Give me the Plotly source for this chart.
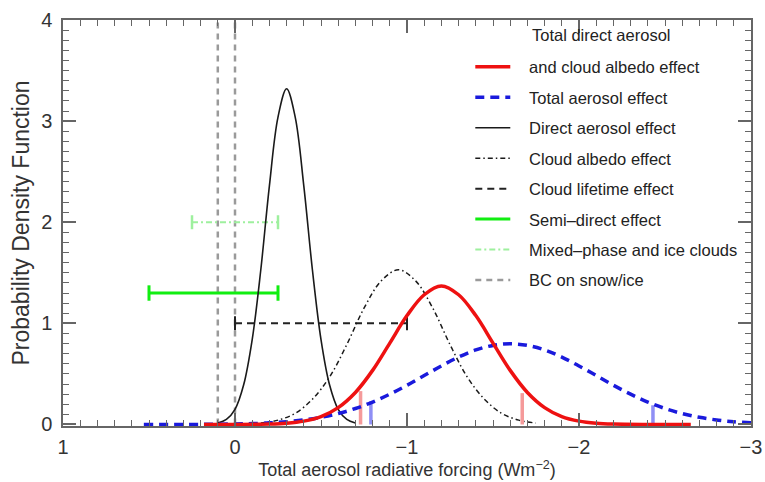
import plotly.graph_objects as go

# ---- data ----
# Direct aerosol effect PDF
direct_x = [0.10, 0.05, 0.00, -0.05, -0.10, -0.15, -0.20, -0.25, -0.30, -0.35, -0.40, -0.45, -0.50, -0.55, -0.60, -0.65, -0.70]
direct_y = [0.014, 0.05, 0.15, 0.39, 0.84, 1.53, 2.36, 3.04, 3.32, 3.04, 2.36, 1.53, 0.84, 0.39, 0.15, 0.05, 0.014]

# Cloud albedo effect PDF
albedo_x = [-0.15, -0.25, -0.35, -0.45, -0.55, -0.65, -0.75, -0.85, -0.95, -1.05, -1.15, -1.25, -1.35, -1.45, -1.55, -1.65, -1.75]
albedo_y = [0.014, 0.043, 0.11, 0.25, 0.47, 0.79, 1.15, 1.42, 1.53, 1.42, 1.15, 0.79, 0.47, 0.25, 0.11, 0.043, 0.014]

# Total direct aerosol and cloud albedo effect PDF
tdca_x = [0.18, 0.0, -0.2, -0.3, -0.4, -0.5, -0.6, -0.7, -0.8, -0.9, -1.0, -1.1, -1.2, -1.3, -1.4, -1.5, -1.6, -1.7, -1.8, -1.9, -2.0, -2.1, -2.2, -2.4, -2.65]
tdca_y = [0.0, 0.0003, 0.004, 0.012, 0.033, 0.078, 0.167, 0.317, 0.535, 0.805, 1.077, 1.283, 1.37, 1.283, 1.077, 0.805, 0.535, 0.317, 0.167, 0.078, 0.033, 0.012, 0.004, 0.0003, 0.0]

# Total aerosol effect PDF
total_x = [0.53, 0.2, 0.0, -0.1, -0.2, -0.3, -0.4, -0.5, -0.6, -0.7, -0.8, -0.9, -1.0, -1.1, -1.2, -1.3, -1.4, -1.5, -1.6, -1.7, -1.8, -1.9, -2.0, -2.1, -2.2, -2.3, -2.4, -2.5, -2.6, -2.7, -2.8, -2.9, -3.0]
total_y = [0.0, 0.0012, 0.005, 0.009, 0.016, 0.027, 0.045, 0.071, 0.108, 0.158, 0.222, 0.300, 0.388, 0.484, 0.579, 0.667, 0.737, 0.782, 0.798, 0.782, 0.737, 0.667, 0.579, 0.484, 0.388, 0.300, 0.222, 0.158, 0.108, 0.071, 0.045, 0.027, 0.016]

# 5-95% markers
tdca_pct_x = [-0.73, -1.67]
tdca_pct_h = [0.33, 0.31]
total_pct_x = [-0.79, -2.43]
total_pct_h = [0.23, 0.19]

# Ranges (x_start, x_end, y level)
lifetime_range = [0.0, -1.0]
lifetime_level = 1.0
semidirect_range = [0.5, -0.25]
semidirect_level = 1.3
mixed_range = [0.25, -0.25]
mixed_level = 2.0
bc_lines = [0.1, 0.0]
bc_top = 4.0

legend_names = ["and cloud albedo effect", "Total aerosol effect", "Direct aerosol effect",
                "Cloud albedo effect", "Cloud lifetime effect", "Semi\u2013direct effect",
                "Mixed\u2013phase and ice clouds", "BC on snow/ice"]
legend_title_line = "Total direct aerosol"

x_ticks = [1, 0, -1, -2, -3]
y_ticks = [0, 1, 2, 3, 4]

FONT = "Liberation Sans, Arial, Helvetica, sans-serif"
PAD = "\u00a0\u00a0\u00a0"

fig = go.Figure()

def vlines(xs, y0s, y1s):
    X, Y = [], []
    for x, a, b in zip(xs, y0s, y1s):
        X += [x, x, None]
        Y += [a, b, None]
    return X, Y

# BC on snow/ice
bx, by = vlines(bc_lines, [0, 0], [bc_top, bc_top])
fig.add_trace(go.Scatter(x=bx, y=by, mode="lines", name=PAD + legend_names[7],
                         line=dict(color="#9a9a9a", width=2.5, dash="6px,5px"),
                         legendgroup="g8", legendrank=8))

# Mixed-phase
fig.add_trace(go.Scatter(x=mixed_range, y=[mixed_level] * 2, mode="lines", name=PAD + legend_names[6],
                         line=dict(color="#9ef09e", width=2, dash="6px,3px,2px,3px"),
                         legendgroup="g7", legendrank=7))
fig.add_trace(go.Scatter(x=mixed_range, y=[mixed_level] * 2, mode="markers", showlegend=False,
                         marker=dict(symbol="line-ns", size=10, line=dict(color="#9ef09e", width=2.5)),
                         legendgroup="g7"))

# Semi-direct
fig.add_trace(go.Scatter(x=semidirect_range, y=[semidirect_level] * 2, mode="lines", name=PAD + legend_names[5],
                         line=dict(color="#11ee11", width=3),
                         legendgroup="g6", legendrank=6))
fig.add_trace(go.Scatter(x=semidirect_range, y=[semidirect_level] * 2, mode="markers", showlegend=False,
                         marker=dict(symbol="line-ns", size=11, line=dict(color="#11ee11", width=3)),
                         legendgroup="g6"))

# Cloud lifetime
fig.add_trace(go.Scatter(x=lifetime_range, y=[lifetime_level] * 2, mode="lines", name=PAD + legend_names[4],
                         line=dict(color="#222222", width=2, dash="7px,5px"),
                         legendgroup="g5", legendrank=5))
fig.add_trace(go.Scatter(x=lifetime_range, y=[lifetime_level] * 2, mode="markers", showlegend=False,
                         marker=dict(symbol="line-ns", size=10, line=dict(color="#222222", width=2)),
                         legendgroup="g5"))

# Direct aerosol
fig.add_trace(go.Scatter(x=direct_x, y=direct_y, mode="lines", name=PAD + legend_names[2],
                         line=dict(color="#1a1a1a", width=1.6, shape="spline"),
                         legendgroup="g3", legendrank=3))

# Cloud albedo
fig.add_trace(go.Scatter(x=albedo_x, y=albedo_y, mode="lines", name=PAD + legend_names[3],
                         line=dict(color="#1a1a1a", width=1.5, shape="spline", dash="5px,3px,1.5px,3px"),
                         legendgroup="g4", legendrank=4))

# Percentile markers
px_, py_ = vlines(total_pct_x, [0, 0], total_pct_h)
fig.add_trace(go.Scatter(x=px_, y=py_, mode="lines", showlegend=False,
                         line=dict(color="#8f8ff5", width=3.5)))
px_, py_ = vlines(tdca_pct_x, [0, 0], tdca_pct_h)
fig.add_trace(go.Scatter(x=px_, y=py_, mode="lines", showlegend=False,
                         line=dict(color="#f59a9a", width=3.5)))

# Total aerosol effect
fig.add_trace(go.Scatter(x=total_x, y=total_y, mode="lines", name=PAD + legend_names[1],
                         line=dict(color="#1a1adc", width=3.5, shape="spline", dash="9px,6px"),
                         legendgroup="g2", legendrank=2))

# Total direct aerosol and cloud albedo
fig.add_trace(go.Scatter(x=tdca_x, y=tdca_y, mode="lines", name=PAD + legend_names[0],
                         line=dict(color="#ee1111", width=3.5, shape="spline"),
                         legendgroup="g1", legendrank=1))

axis_common = dict(showline=True, linecolor="#666666", linewidth=1.5, mirror="ticks",
                   ticks="inside", ticklen=13, tickwidth=1.5, tickcolor="#666666",
                   showgrid=False, zeroline=False, automargin=False,
                   tickfont=dict(family=FONT, size=20, color="#333333"))
minor_common = dict(dtick=0.1, ticks="inside", ticklen=6, tickwidth=1.2, tickcolor="#666666", showgrid=False)

fig.update_layout(
    width=765, height=482,
    margin=dict(l=63, r=14, t=20, b=56),
    paper_bgcolor="white", plot_bgcolor="white",
    font=dict(family=FONT, color="#333333"),
    xaxis=dict(range=[1, -3], tickvals=x_ticks, minor=minor_common, ticklabelstandoff=2,
               title=dict(text="Total aerosol radiative forcing (Wm<sup>\u22122</sup>)",
                          font=dict(size=18, family=FONT), standoff=3),
               **axis_common),
    yaxis=dict(range=[-0.015, 4], tickvals=y_ticks, minor=minor_common, ticklabelstandoff=5,
               title=dict(text="Probability Density Function", font=dict(size=23, family=FONT), standoff=5),
               **axis_common),
    legend=dict(x=0.592, y=0.927, xanchor="left", yanchor="top",
                bgcolor="rgba(0,0,0,0)", traceorder="grouped", tracegroupgap=6,
                font=dict(size=16.5, color="#222222", family=FONT), itemwidth=35),
    showlegend=True,
    annotations=[dict(text=legend_title_line, xref="paper", yref="paper",
                      x=0.679, y=0.963, xanchor="left", yanchor="middle", showarrow=False,
                      font=dict(size=16.5, color="#222222", family=FONT))],
)

# remove the default page margin so the 765x482 figure fills the window exactly
fig.write_html("out.html", config={"displayModeBar": False},
               post_script="document.body.style.margin='0';document.body.style.overflow='hidden';")
